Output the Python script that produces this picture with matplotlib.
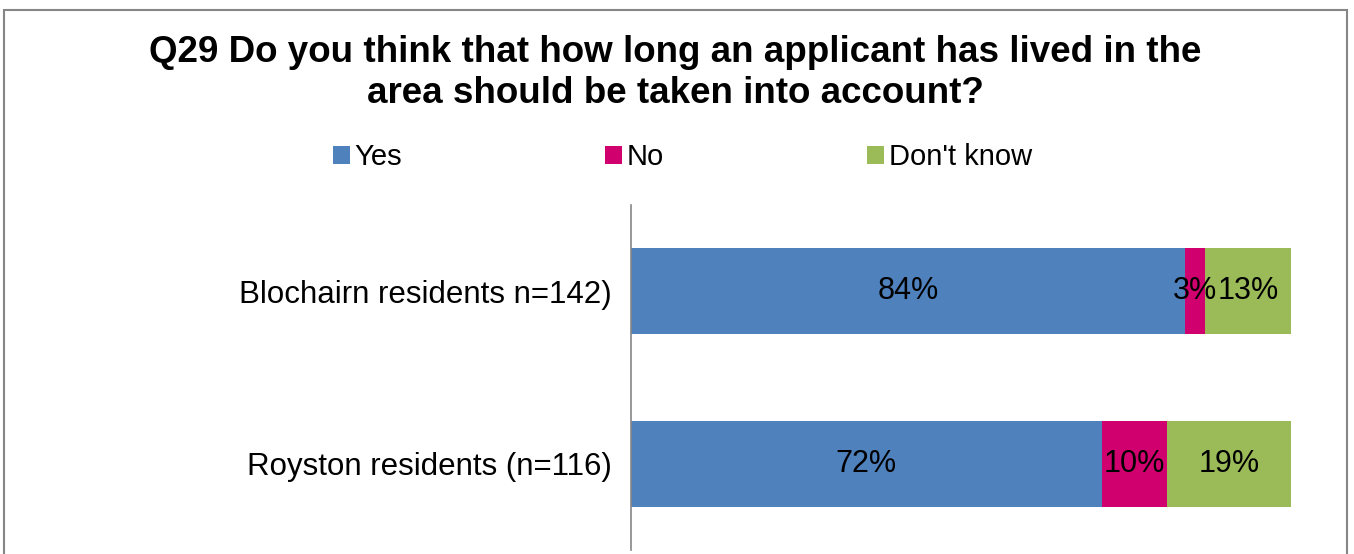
"""Stacked 100% bar chart for survey question Q29."""
import matplotlib.pyplot as plt
import numpy as np
from matplotlib.patches import Patch, Rectangle

plt.rcParams["font.family"] = ["Liberation Sans", "DejaVu Sans"]

categories = ["Blochairn residents n=142)", "Royston residents (n=116)"]
answers = ["Yes", "No", "Don't know"]
yes = [84, 72]
no = [3, 10]
dont_know = [13, 19]
colors = ["#4f81bd", "#d0006f", "#9bbb59"]

values = np.array([yes, no, dont_know], dtype=float)
shares = values / values.sum(axis=0) * 100  # each bar spans the full width

fig = plt.figure(figsize=(13.54, 5.54), dpi=100)
ax = fig.add_axes([0.466, 0.007, 0.4875, 0.623])

ypos = np.arange(len(categories))
left = np.zeros(len(categories))
for i, name in enumerate(answers):
    bars = ax.barh(ypos, shares[i], left=left, height=0.5, color=colors[i], label=name)
    for b, v in zip(bars, values[i]):
        ax.text(b.get_x() + b.get_width() / 2, b.get_y() + b.get_height() / 2,
                f"{v:.0f}%", ha="center", va="center", fontsize=22, color="black")
    left += shares[i]

ax.set_xlim(0, 100)
ax.set_ylim(1.5, -0.5)
ax.set_yticks(ypos)
ax.set_yticklabels(categories, fontsize=22.5)
ax.tick_params(axis="y", length=0, pad=14)
ax.set_xticks([])
for side in ["top", "right", "bottom"]:
    ax.spines[side].set_visible(False)
ax.spines["left"].set_color("#868686")
ax.spines["left"].set_linewidth(1.2)

fig.text(0.4985, 0.869, "Q29 Do you think that how long an applicant has lived in the\narea should be taken into account?",
         ha="center", va="center", fontsize=26.5, fontweight="bold", linespacing=1.22)

handles = [Patch(facecolor=c, edgecolor="none") for c in colors]
fig.legend(handles, answers, loc="center", bbox_to_anchor=(0.504, 0.716), ncol=3,
           frameon=False, fontsize=21, handlelength=0.58, handleheight=0.58,
           handletextpad=0.17, columnspacing=6.95)

# outer chart frame
fig.patches.append(Rectangle((4 / 1354, -0.05), 1343 / 1354, 1.05 - 10 / 554,
                             transform=fig.transFigure, fill=False,
                             edgecolor="#868686", linewidth=1.5, clip_on=False))

fig.savefig("out.png", dpi=100)
